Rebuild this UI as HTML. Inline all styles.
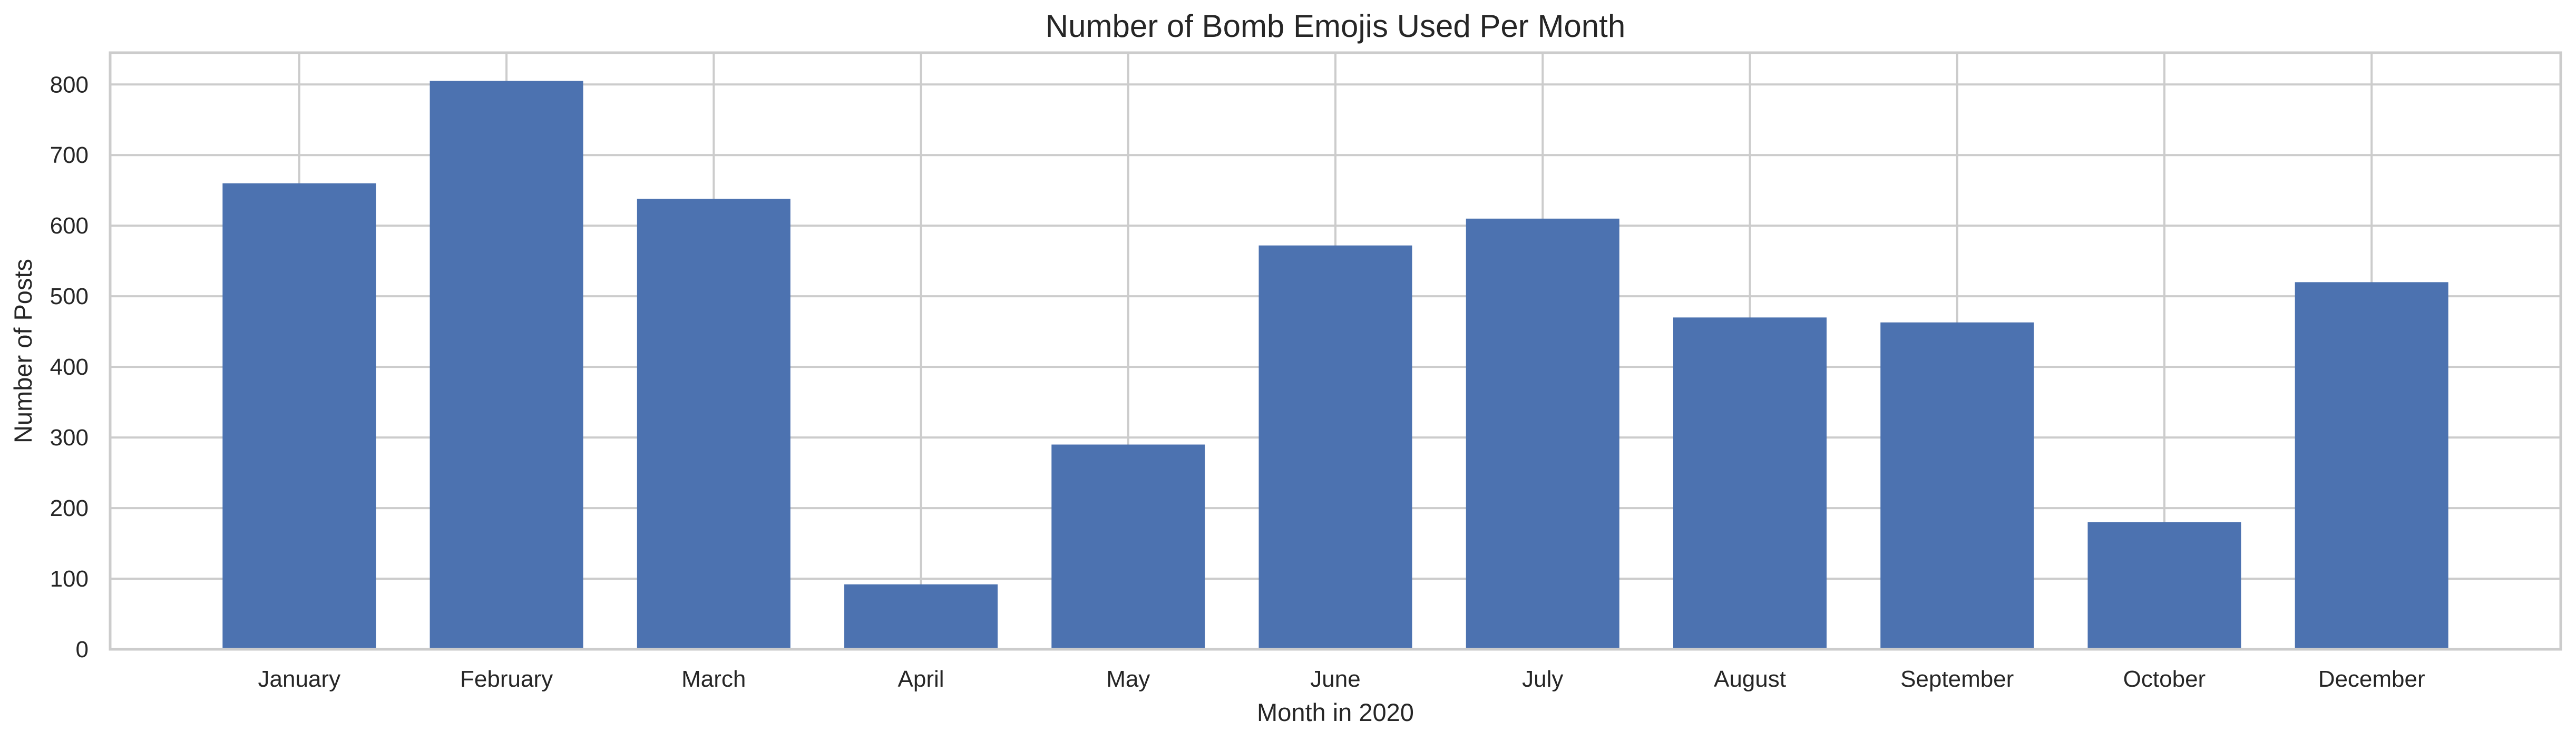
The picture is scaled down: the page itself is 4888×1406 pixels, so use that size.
<!DOCTYPE html>
<html><head><meta charset="utf-8"><style>
html,body{margin:0;padding:0;background:#fff;}
svg{display:block;font-family:"Liberation Sans",Arial,sans-serif;}
</style></head><body>
<svg id="chart" width="4888" height="1406" viewBox="0 0 4888 1406" xmlns="http://www.w3.org/2000/svg">
<rect x="0" y="0" width="4888" height="1406" fill="#fff"/>
<g id="grid"></g>
<g id="bars"></g>
<g id="axes"></g>
<text x="2534" y="70" text-anchor="middle" font-size="60" fill="#262626">Number of Bomb Emojis Used Per Month</text>
<text x="2534" y="1368" text-anchor="middle" font-size="47" fill="#262626">Month in 2020</text>
<text transform="translate(60,666) rotate(-90)" text-anchor="middle" font-size="47" fill="#262626">Number of Posts</text>
</svg>
<script>
const categories = ["January","February","March","April","May","June","July","August","September","October","December"];
const values = [660, 805, 638, 92, 290, 572, 610, 470, 463, 180, 520];
const yTicks = [0, 100, 200, 300, 400, 500, 600, 700, 800];

const NS = "http://www.w3.org/2000/svg";
const L = 209, R = 4859, T = 100, B = 1232;
const xMin = -0.9125, xMax = categories.length - 1 + 0.9125;
const yMax = 845;
function xs(i){ return L + (i - xMin) / (xMax - xMin) * (R - L); }
function ys(v){ return B - v / yMax * (B - T); }
const unit = (R - L) / (xMax - xMin);
const bw = 0.74 * unit;

function mk(tag, attrs, parent){
  const e = document.createElementNS(NS, tag);
  for (const k in attrs) e.setAttribute(k, attrs[k]);
  parent.appendChild(e);
  return e;
}
const grid = document.getElementById('grid');
const bars = document.getElementById('bars');
const axes = document.getElementById('axes');

yTicks.forEach(function(t){
  const y = ys(t);
  const ln = mk('line', {x1:L, x2:R, y1:y, y2:y, stroke:'#cccccc', 'stroke-width':4}, grid);
  
  
  const tx = mk('text', {x:168, y:y+15, 'text-anchor':'end', 'font-size':44, fill:'#262626'}, axes);
  tx.textContent = t;
  
  
});
categories.forEach(function(c, i){
  const x = xs(i);
  const ln = mk('line', {x1:x, x2:x, y1:T, y2:B, stroke:'#cccccc', 'stroke-width':4}, grid);
  
  
  const r = mk('rect', {x:x - bw/2, y:ys(values[i]), width:bw, height:B - ys(values[i]), fill:'#4c72b0', stroke:'#ffffff', 'stroke-width':0}, bars);
  
  
  const tx = mk('text', {x:x, y:1303, 'text-anchor':'middle', 'font-size':44, fill:'#262626'}, axes);
  tx.textContent = c;
  
  
});
const frame = mk('rect', {x:L, y:T, width:R-L, height:B-T, fill:'none', stroke:'#cccccc', 'stroke-width':5}, axes);


</script>
</body></html>
